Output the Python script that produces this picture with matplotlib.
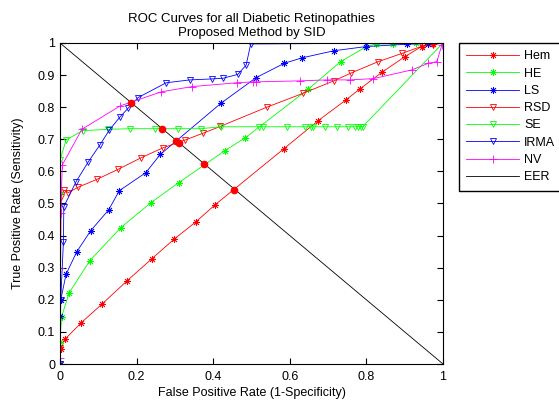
import matplotlib
matplotlib.use("Agg")
import matplotlib.pyplot as plt

plt.rcParams['font.family'] = ['Liberation Sans', 'DejaVu Sans']

# ROC curves (x = FPR, y = TPR)
hem_x = [0, 0.002, 0.013, 0.054, 0.11, 0.175, 0.24, 0.297, 0.354, 0.404, 0.584, 0.674, 0.746, 0.782, 0.842, 0.90, 0.944, 0.975, 1.0]
hem_y = [0, 0.047, 0.077, 0.127, 0.187, 0.259, 0.328, 0.388, 0.442, 0.495, 0.67, 0.758, 0.822, 0.856, 0.91, 0.957, 0.989, 0.996, 1.0]

he_x = [0, 0.0, 0.004, 0.024, 0.078, 0.159, 0.238, 0.31, 0.431, 0.484, 0.648, 0.733, 0.80, 0.826, 0.87, 0.93, 1.0]
he_y = [0, 0.07, 0.147, 0.222, 0.322, 0.425, 0.503, 0.565, 0.665, 0.705, 0.856, 0.942, 0.989, 0.997, 0.997, 1.0, 1.0]

ls_x = [0, 0.0, 0.002, 0.016, 0.044, 0.08, 0.127, 0.155, 0.224, 0.262, 0.42, 0.512, 0.586, 0.633, 0.716, 0.80, 0.905, 0.96, 1.0]
ls_y = [0, 0.15, 0.20, 0.28, 0.35, 0.415, 0.48, 0.54, 0.596, 0.653, 0.812, 0.892, 0.937, 0.954, 0.976, 0.989, 0.996, 0.998, 1.0]

rsd_x = [0, 0.0, 0.003, 0.01, 0.022, 0.046, 0.096, 0.151, 0.211, 0.268, 0.327, 0.374, 0.418, 0.54, 0.634, 0.715, 0.761, 0.829, 0.894, 0.947, 0.975, 1.0]
rsd_y = [0, 0.05, 0.52, 0.542, 0.534, 0.55, 0.575, 0.606, 0.642, 0.673, 0.698, 0.719, 0.74, 0.80, 0.843, 0.882, 0.907, 0.941, 0.968, 0.991, 0.995, 1.0]

se_x = [0, 0.0, 0.0, 0.016, 0.059, 0.126, 0.184, 0.248, 0.309, 0.368, 0.42, 0.52, 0.531, 0.592, 0.64, 0.655, 0.661, 0.692, 0.722, 0.753, 0.77, 0.779, 0.785, 0.79, 1.0]
se_y = [0, 0.528, 0.635, 0.698, 0.727, 0.731, 0.733, 0.733, 0.733, 0.733, 0.739, 0.739, 0.739, 0.739, 0.739, 0.739, 0.739, 0.739, 0.739, 0.739, 0.739, 0.739, 0.739, 0.739, 1.0]

irma_x = [0, 0.002, 0.009, 0.01, 0.042, 0.074, 0.104, 0.129, 0.157, 0.178, 0.204, 0.277, 0.339, 0.396, 0.425, 0.464, 0.486, 0.498, 0.80, 0.96, 1.0]
irma_y = [0, 0.20, 0.381, 0.49, 0.568, 0.63, 0.682, 0.729, 0.77, 0.797, 0.83, 0.876, 0.885, 0.888, 0.89, 0.902, 0.931, 0.997, 0.999, 1.0, 1.0]

nv_x = [0, 0.0, 0.0, 0.002, 0.006, 0.057, 0.157, 0.265, 0.344, 0.461, 0.505, 0.513, 0.627, 0.696, 0.757, 0.818, 0.918, 0.962, 0.984, 0.997, 1.0]
nv_y = [0, 0.02, 0.30, 0.47, 0.62, 0.731, 0.804, 0.848, 0.864, 0.876, 0.879, 0.879, 0.882, 0.885, 0.885, 0.889, 0.916, 0.937, 0.942, 0.994, 1.0]

# equal error rate points (red dots on the EER diagonal)
eer_x = [0.455, 0.375, 0.303, 0.31, 0.266, 0.185]
eer_y = [0.541, 0.624, 0.695, 0.69, 0.733, 0.812]

fig = plt.figure(figsize=(5.59, 4.04), dpi=100)
ax = fig.add_axes([0.1073, 0.099, 0.6852, 0.7946])

star = (8, 2, 0)
lw = 0.6
ax.plot(hem_x, hem_y, color='red', lw=lw, marker=star, ms=5, mew=0.6, label='Hem')
ax.plot(he_x, he_y, color='#00ff00', lw=lw, marker=star, ms=5, mew=0.6, label='HE')
ax.plot(ls_x, ls_y, color='blue', lw=lw, marker=star, ms=5, mew=0.6, label='LS')
ax.plot(rsd_x, rsd_y, color='red', lw=lw, marker='v', ms=4.5, mfc='none', mew=0.6, label='RSD')
ax.plot(se_x, se_y, color='#00ff00', lw=lw, marker='v', ms=4.5, mfc='none', mew=0.6, label='SE')
ax.plot(irma_x, irma_y, color='blue', lw=lw, marker='v', ms=4.5, mfc='none', mew=0.6, label='IRMA')
ax.plot(nv_x, nv_y, color='magenta', lw=lw, marker='+', ms=6, mew=0.6, label='NV')
ax.plot([0, 1], [1, 0], color='black', lw=0.6, label='EER')
ax.plot(eer_x, eer_y, 'o', color='red', ms=4.5, zorder=5)

ax.set_xlim(0, 1)
ax.set_ylim(0, 1)
ax.set_xticks([0, 0.2, 0.4, 0.6, 0.8, 1])
ax.set_xticklabels(['0', '0.2', '0.4', '0.6', '0.8', '1'])
ax.set_yticks([i / 10 for i in range(11)])
ax.set_yticklabels(['0', '0.1', '0.2', '0.3', '0.4', '0.5', '0.6', '0.7', '0.8', '0.9', '1'])
ax.tick_params(direction='in', top=True, right=True, labelsize=9, length=4)
ax.tick_params(axis='x', pad=5)
ax.set_xlabel('False Positive Rate (1-Specificity)', fontsize=9, labelpad=3)
ax.set_ylabel('True Positive Rate (Sensitivity)', fontsize=9, labelpad=10)
ax.set_title('ROC Curves for all Diabetic Retinopathies\nProposed Method by SID', fontsize=9.5, pad=5, linespacing=1.25)

fig.legend(loc='upper left', bbox_to_anchor=(0.821, 0.8936), fontsize=9, numpoints=1,
           handlelength=4.2, fancybox=False, edgecolor='black', framealpha=1,
           borderpad=0.6, labelspacing=0.42, handletextpad=0.4, borderaxespad=0)

fig.savefig('out.png', dpi=100)
